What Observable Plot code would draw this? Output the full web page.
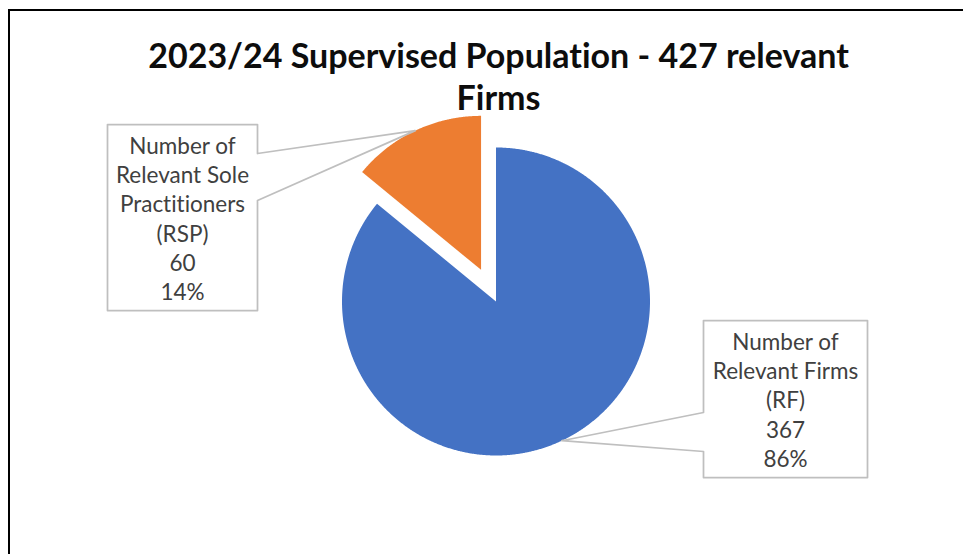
<!DOCTYPE html>
<html><head><meta charset="utf-8">
<script src="https://cdn.jsdelivr.net/npm/d3@7"></script>
<script src="https://cdn.jsdelivr.net/npm/@observablehq/plot@0.6"></script>
<style>
html,body{margin:0;padding:0;background:#fff;}
#wrap{position:relative;width:963px;height:554px;overflow:hidden;}
#border{position:absolute;left:8px;top:9px;width:2000px;height:2000px;border-left:2px solid #000;border-top:2px solid #000;box-sizing:border-box;}
#chart{position:absolute;left:9px;top:0;width:978px;}
#chart svg{max-width:none !important;}
#chart text{font-variant-ligatures:none;font-feature-settings:"liga" 0;}
</style></head><body>
<div id="wrap"><div id="border"></div><div id="chart"></div></div>
<script>
// ---- data ----
const categories = ["Number of Relevant Firms (RF)", "Number of Relevant Sole Practitioners (RSP)"];
const labelLines = [["Number of", "Relevant Firms", "(RF)"], ["Number of", "Relevant Sole", "Practitioners", "(RSP)"]];
const values = [367, 60];
const colors = ["#4472C4", "#ED7D31"];
const titleLines = ["2023/24 Supervised Population - 427 relevant", "Firms"];

// ---- layout (page pixels) ----
const W = 978, H = 554, X0 = 9;
const cx = 495.5, cy = 301, r = 154;
const explode = [0, 35];
const boxes = [
  {x0: 703, x1: 867, y0: 320, y1: 477, side: "left", w0: 412, w1: 451},
  {x0: 107, x1: 257, y0: 124, y1: 310, side: "right", w0: 153, w1: 200}
];

const total = d3.sum(values);
const arcs = d3.pie().sort(null).value(d => d)(values);

const slicePts = [];
const tips = [];
arcs.forEach((a, i) => {
  const mid = (a.startAngle + a.endAngle) / 2;
  const ox = cx + explode[i] * Math.sin(mid), oy = cy - explode[i] * Math.cos(mid);
  const key = categories[i];
  slicePts.push({key, x: ox, y: oy});
  const n = Math.max(2, Math.ceil((a.endAngle - a.startAngle) / 0.005));
  for (let k = 0; k <= n; k++) {
    const t = a.startAngle + (a.endAngle - a.startAngle) * k / n;
    slicePts.push({key, x: ox + r * Math.sin(t), y: oy - r * Math.cos(t)});
  }
  slicePts.push({key, x: ox, y: oy});
  tips.push({x: ox + r * Math.sin(mid), y: oy - r * Math.cos(mid)});
});

const calloutPts = [];
const labels = [];
boxes.forEach((b, i) => {
  const key = categories[i], tip = tips[i];
  let pts;
  if (b.side === "left") {
    pts = [[b.x0, b.y0], [b.x1, b.y0], [b.x1, b.y1], [b.x0, b.y1], [b.x0, b.w1], [tip.x, tip.y], [b.x0, b.w0], [b.x0, b.y0]];
  } else {
    pts = [[b.x0, b.y0], [b.x1, b.y0], [b.x1, b.w0], [tip.x, tip.y], [b.x1, b.w1], [b.x1, b.y1], [b.x0, b.y1], [b.x0, b.y0]];
  }
  pts.forEach(([x, y]) => calloutPts.push({key, x, y}));
  const pct = Math.round(values[i] / total * 100) + "%";
  labels.push({x: (b.x0 + b.x1) / 2, y: (b.y0 + b.y1) / 2, text: [...labelLines[i], String(values[i]), pct].join("\n")});
});

const fs = 22.5, tfs = 34;
const chart = Plot.plot({
  width: W, height: H, margin: 0,
  x: {domain: [X0, X0 + W], range: [0, W], axis: null},
  y: {domain: [0, H], range: [0, H], axis: null},
  color: {domain: categories, range: colors},
  style: {background: "transparent", maxWidth: "none"},
  marks: [
    Plot.line(slicePts, {x: "x", y: "y", z: "key", fill: "key", stroke: "none", curve: "linear"}),
    Plot.line(calloutPts, {x: "x", y: "y", z: "key", fill: "white", stroke: "#BFBFBF", strokeWidth: 1.75, curve: "linear"}),
    Plot.text(labels, {x: "x", y: "y", text: "text", fontSize: fs, lineHeight: 29.3 / fs, lineAnchor: "middle", fill: "#404040", fontFamily: "Lato"}),
    Plot.text([titleLines.join("\n")], {frameAnchor: "top", dy: 75, text: d => d, lineAnchor: "middle", fontSize: tfs, lineHeight: 42 / tfs, fontWeight: "bold", fill: "#0d0d0d", fontFamily: "Lato"})
  ]
});
chart.style.maxWidth = "none";
document.getElementById("chart").appendChild(chart);
</script>
</body></html>
